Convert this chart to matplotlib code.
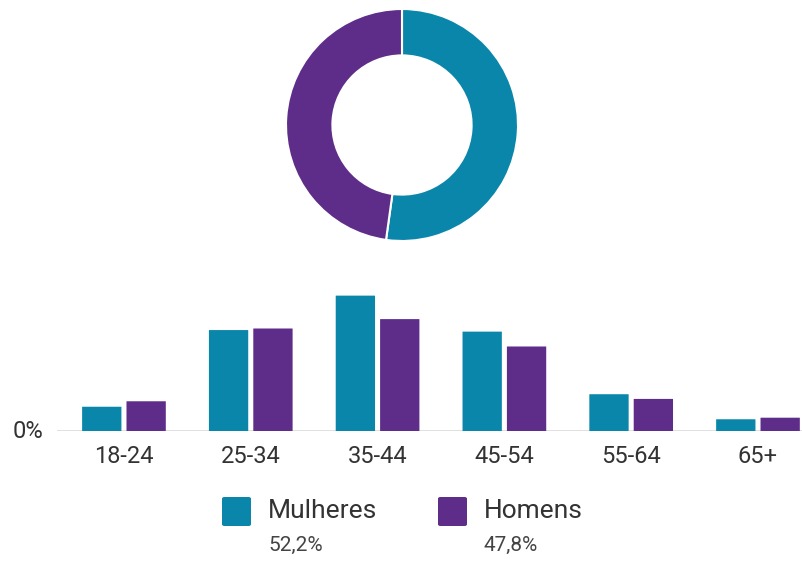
import matplotlib
matplotlib.use("Agg")
import matplotlib.pyplot as plt
from matplotlib.patches import FancyBboxPatch

# data (share of audience, %)
age_groups = ["18-24", "25-34", "35-44", "45-54", "55-64", "65+"]
mulheres = [3.1, 12.9, 17.3, 12.7, 4.7, 1.5]
homens = [3.8, 13.1, 14.3, 10.8, 4.1, 1.7]
genders = ["Mulheres", "Homens"]
gender_share = [52.2, 47.8]
gender_labels = ["52,2%", "47,8%"]

teal = "#0b86ab"
purple = "#5e2d89"
colors = [teal, purple]

W, H = 803, 562
fig = plt.figure(figsize=(W / 100, H / 100), dpi=100)
plt.rcParams['font.family'] = ['Roboto', 'DejaVu Sans']

def px_axes(x0, y0, x1, y1):
    # pixel box (top-left origin) -> figure axes
    return fig.add_axes([x0 / W, 1 - y1 / H, (x1 - x0) / W, (y1 - y0) / H])

# donut
ax_d = px_axes(402 - 116, 125 - 116, 402 + 116, 125 + 116)
ax_d.pie(gender_share, colors=colors, startangle=90, counterclock=False,
         radius=1, wedgeprops=dict(width=0.4, edgecolor="white", linewidth=1.5))
ax_d.set_xlim(-1, 1)
ax_d.set_ylim(-1, 1)
ax_d.set_aspect("equal")
ax_d.axis("off")

# bars
ymax = 18.0
ppu = 7.825  # px per percent
ax = px_axes(57, 431 - ymax * ppu, 803, 431)
x = list(range(len(age_groups)))
bw = 0.31
off = 0.175
for i in x:
    for val, c, o in [(mulheres[i], teal, -off), (homens[i], purple, off)]:
        p = FancyBboxPatch((i + o - bw / 2, 0), bw, val,
                           boxstyle="round,pad=0,rounding_size=0.03",
                           mutation_aspect=1 / 8, fc=c, ec="none")
        ax.add_patch(p)
ax.set_xlim(-0.528, 5.355)
ax.set_ylim(0, ymax)
ax.axhline(0, color="#dddddd", lw=2, zorder=0)
for s in ax.spines.values():
    s.set_visible(False)
ax.set_yticks([])
ax.set_xticks(x)
ax.set_xticklabels(age_groups, fontsize=17, color="#333333")
ax.tick_params(axis="x", length=0, pad=10)
ax.patch.set_alpha(0)

fig.text(28 / W, 1 - 432 / H, "0%", fontsize=17, color="#333333",
         ha="center", va="center")

# legend
leg_x = [222, 438]
for gx, name, lab, c in zip(leg_x, genders, gender_labels, colors):
    sq = FancyBboxPatch((gx / W, 1 - 526 / H), 29 / W, 29 / H,
                        boxstyle="round,pad=0,rounding_size=0.003",
                        transform=fig.transFigure, fc=c, ec="none")
    fig.add_artist(sq)
    fig.text((gx + 46) / W, 1 - 511 / H, name, fontsize=19, color="#333333",
             ha="left", va="center")
    fig.text((gx + 46) / W, 1 - 545 / H, lab, fontsize=15, color="#444444",
             ha="left", va="center")

fig.savefig("out.png", dpi=100)
